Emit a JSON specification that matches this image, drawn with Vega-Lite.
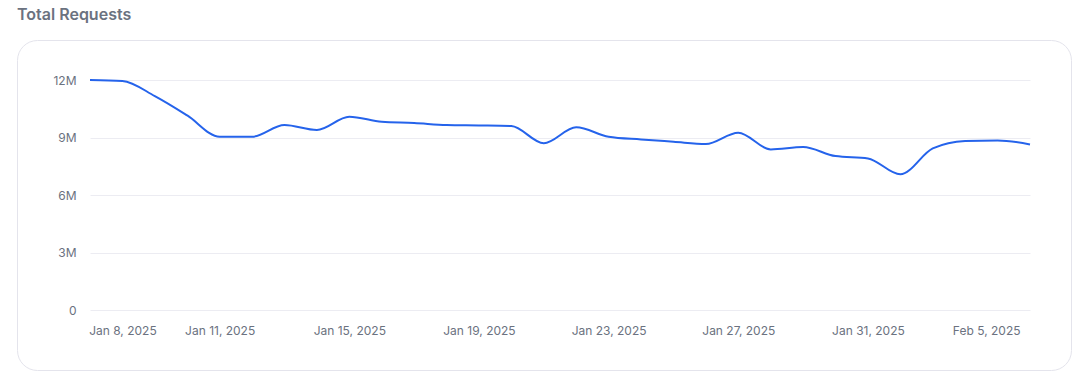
{
  "$schema": "https://vega.github.io/schema/vega-lite/v6.json",
  "width": 1054,
  "height": 330,
  "autosize": {"type": "none"},
  "padding": {"left": 17, "top": 40, "right": 14, "bottom": 8},
  "background": "#ffffff",
  "title": {
    "text": "Total Requests",
    "anchor": "start",
    "frame": "group",
    "orient": "top",
    "offset": 4,
    "baseline": "alphabetic",
    "fontSize": 16,
    "fontWeight": 600,
    "font": "Inter",
    "color": "#6b7280"
  },
  "config": {
    "font": "Inter",
    "view": {"stroke": "#e4e4ec", "strokeWidth": 1, "cornerRadius": 20, "fill": "#ffffff"}
  },
  "data": {
    "values": [
      {"date": "2025-01-07", "requests": 12000000},
      {"date": "2025-01-08", "requests": 11950000},
      {"date": "2025-01-09", "requests": 11160000},
      {"date": "2025-01-10", "requests": 10150000},
      {"date": "2025-01-11", "requests": 9040000},
      {"date": "2025-01-12", "requests": 9040000},
      {"date": "2025-01-13", "requests": 9650000},
      {"date": "2025-01-14", "requests": 9390000},
      {"date": "2025-01-15", "requests": 10080000},
      {"date": "2025-01-16", "requests": 9820000},
      {"date": "2025-01-17", "requests": 9760000},
      {"date": "2025-01-18", "requests": 9650000},
      {"date": "2025-01-19", "requests": 9630000},
      {"date": "2025-01-20", "requests": 9600000},
      {"date": "2025-01-21", "requests": 8700000},
      {"date": "2025-01-22", "requests": 9530000},
      {"date": "2025-01-23", "requests": 9040000},
      {"date": "2025-01-24", "requests": 8900000},
      {"date": "2025-01-25", "requests": 8780000},
      {"date": "2025-01-26", "requests": 8660000},
      {"date": "2025-01-27", "requests": 9250000},
      {"date": "2025-01-28", "requests": 8380000},
      {"date": "2025-01-29", "requests": 8500000},
      {"date": "2025-01-30", "requests": 8030000},
      {"date": "2025-01-31", "requests": 7910000},
      {"date": "2025-02-01", "requests": 7080000},
      {"date": "2025-02-02", "requests": 8430000},
      {"date": "2025-02-03", "requests": 8820000},
      {"date": "2025-02-04", "requests": 8850000},
      {"date": "2025-02-05", "requests": 8640000}
    ]
  },
  "mark": {"type": "line", "interpolate": "monotone", "color": "#2563eb", "strokeWidth": 2},
  "encoding": {
    "x": {
      "field": "date",
      "type": "temporal",
      "scale": {"type": "utc", "range": [73, 1013]},
      "axis": {
        "title": null,
        "orient": "bottom",
        "offset": -60,
        "domain": false,
        "ticks": false,
        "tickSize": 0,
        "grid": false,
        "labelPadding": 15,
        "labelFontSize": 12,
        "labelColor": "#6b7280",
        "format": "%b %-d, %Y",
        "labelOverlap": false,
        "labelFlush": true,
        "labelFlushOffset": -10,
        "values": [
          {"year": 2025, "month": 1, "date": 8, "utc": true},
          {"year": 2025, "month": 1, "date": 11, "utc": true},
          {"year": 2025, "month": 1, "date": 15, "utc": true},
          {"year": 2025, "month": 1, "date": 19, "utc": true},
          {"year": 2025, "month": 1, "date": 23, "utc": true},
          {"year": 2025, "month": 1, "date": 27, "utc": true},
          {"year": 2025, "month": 1, "date": 31, "utc": true},
          {"year": 2025, "month": 2, "date": 5, "utc": true}
        ]
      }
    },
    "y": {
      "field": "requests",
      "type": "quantitative",
      "scale": {"domain": [0, 12000000], "range": [270, 40], "nice": false},
      "axis": {
        "title": null,
        "offset": -73,
        "domain": false,
        "ticks": false,
        "tickSize": 0,
        "grid": true,
        "gridColor": "#ececf2",
        "gridWidth": 1,
        "labelPadding": 14,
        "labelFontSize": 12,
        "labelColor": "#6b7280",
        "values": [0, 3000000, 6000000, 9000000, 12000000],
        "format": "~s",
        "labelExpr": "datum.value === 0 ? '0' : datum.label"
      }
    }
  }
}
